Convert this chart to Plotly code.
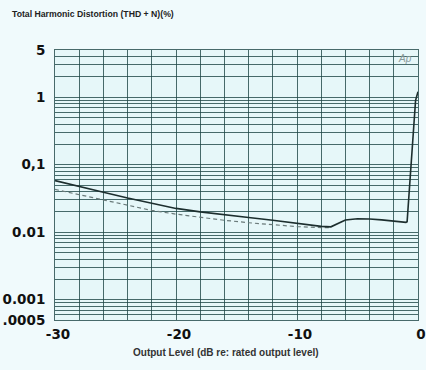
import numpy as np
import plotly.graph_objects as go

# Solid curve (THD+N)
solid_db = [-30, -28, -26, -24, -22, -20, -18, -16, -14, -12, -10, -8, -7.2, -6.6, -6, -5, -4, -3, -2, -1, -0.9, -0.2, 0]
solid_thd = [0.058, 0.047, 0.039, 0.032, 0.027, 0.0225, 0.0200, 0.018, 0.0165, 0.0150, 0.0135, 0.0122, 0.0120,
             0.0135, 0.0152, 0.0158, 0.0157, 0.0152, 0.0145, 0.0140, 0.0143, 0.9, 1.2]

# Dashed curve
dashed_db = [-30, -28, -26, -24, -22, -20, -18, -16, -14, -12, -10, -8, -7.2]
dashed_thd = [0.043, 0.036, 0.030, 0.025, 0.021, 0.0185, 0.0165, 0.015, 0.0138, 0.0128, 0.0121, 0.0117, 0.0117]

x_ticks = [-30, -20, -10, 0]
y_ticks = [0.0005, 0.001, 0.01, 0.1, 1, 5]
y_tick_labels = [".0005", "0.001", "0.01", "0,1", "1", "5"]

grid_col = "rgba(30,70,70,0.8)"

# grid values
x_grid = list(range(-30, 1, 2))
y_grid = []
for dec in [0.0001, 0.001, 0.01, 0.1, 1]:
    for m in range(1, 10):
        v = round(m * dec, 6)
        if 0.0005 <= v <= 5:
            y_grid.append(v)

x_text = [f"<b>{v}</b>" if v in x_ticks else "" for v in x_grid]
y_text = []
for v in y_grid:
    if v in y_ticks:
        y_text.append("<b>" + y_tick_labels[y_ticks.index(v)] + "</b>")
    else:
        y_text.append("")

tick_font = dict(family="DejaVu Sans, sans-serif", size=13.5, color="#111")

fig = go.Figure()
fig.add_trace(go.Scatter(x=dashed_db, y=dashed_thd, mode="lines",
                         line=dict(color="#6a7a7a", width=1.2, dash="4px,3px"), showlegend=False))
fig.add_trace(go.Scatter(x=solid_db, y=solid_thd, mode="lines",
                         line=dict(color="#1c2e2e", width=1.6), showlegend=False))

fig.update_layout(
    width=426, height=370,
    margin=dict(l=55, r=8, t=50, b=50),
    paper_bgcolor="#f0fafc",
    plot_bgcolor="#e6f7f9",
    font=dict(family="Liberation Sans, Arial, sans-serif", color="#111"),
    showlegend=False,
)
fig.update_xaxes(range=[-30, 0], tickvals=x_grid, ticktext=x_text, showgrid=True,
                 gridcolor=grid_col, gridwidth=1, zeroline=False, ticks="", automargin=False,
                 tickfont=tick_font, ticklabelshift=3, ticklabelstandoff=2,
                 showline=True, linecolor=grid_col, mirror=True)
fig.update_yaxes(type="log", range=[np.log10(0.0005), np.log10(5)], tickvals=y_grid, ticktext=y_text,
                 showgrid=True, gridcolor=grid_col, gridwidth=1, zeroline=False, ticks="", automargin=False,
                 tickfont=tick_font, ticklabelstandoff=6,
                 showline=True, linecolor=grid_col, mirror=True)

fig.add_annotation(text="<b>Total Harmonic Distortion (THD + N)(%)</b>", xref="paper", yref="paper",
                   x=-0.123, y=1.0, yshift=36, xanchor="left", yanchor="middle", showarrow=False,
                   font=dict(size=8.7, color="#222"))
fig.add_annotation(text="<b>Output Level (dB re: rated output level)</b>", xref="paper", yref="paper",
                   x=0.47, y=0, yshift=-32, xanchor="center", yanchor="middle", showarrow=False,
                   font=dict(size=10, color="#333"))
fig.add_annotation(text="<i>Ap</i>", xref="paper", yref="paper", x=0.99, y=0.995,
                   xanchor="right", yanchor="top", showarrow=False,
                   font=dict(size=10, color="#8a9a9a"))

fig.write_html("out.html", config={"displayModeBar": False},
               post_script="document.body.style.margin='0';document.body.style.overflow='hidden';")
